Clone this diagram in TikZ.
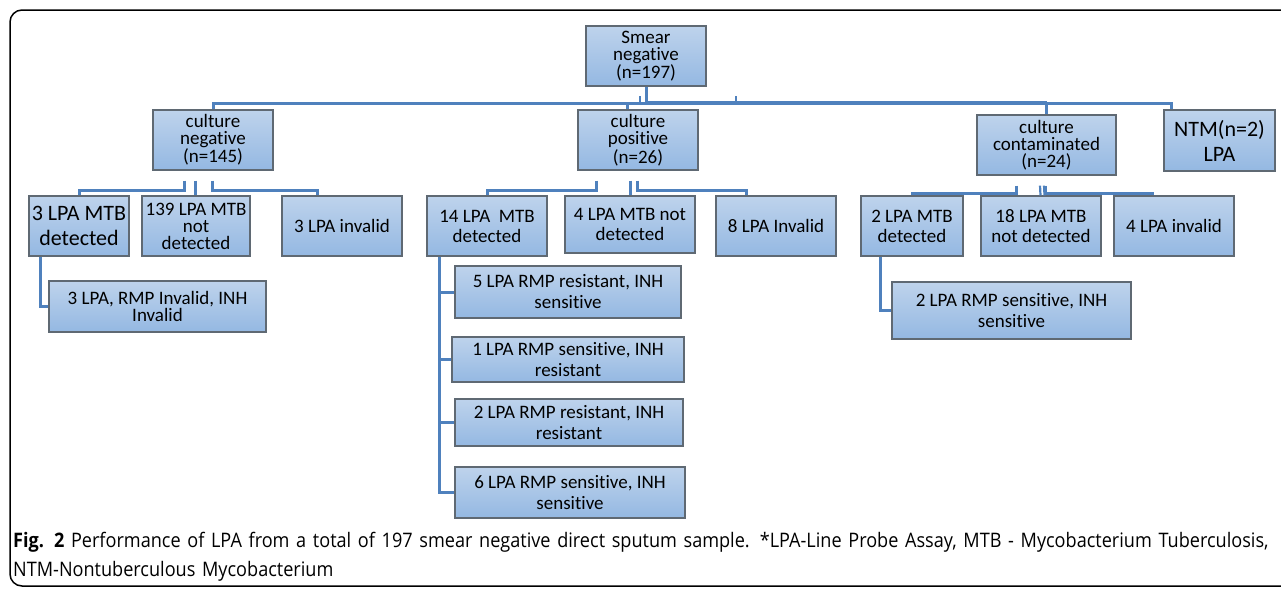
\documentclass[tikz,border=0pt]{standalone}
\usepackage{fontspec}
\setmainfont{Carlito}[Ligatures=NoCommon]
\newfontfamily\capfont[FakeStretch=0.905]{Open Sans}
\usetikzlibrary{calc}
\definecolor{linkblue}{RGB}{79,129,189}
\definecolor{boxtop}{RGB}{190,211,236}
\definecolor{boxbot}{RGB}{148,184,226}
\definecolor{boxedge}{RGB}{95,105,115}
\tikzset{
  box/.style={rectangle, draw=boxedge, line width=1.1pt, top color=boxtop, bottom color=boxbot,
    inner sep=1pt, align=center, font=\fontsize{19}{17}\selectfont, text=black},
  subbox/.style={box, font=\fontsize{19}{21}\selectfont},
  bigbox/.style={box, font=\fontsize{22}{25}\selectfont},
  conn/.style={draw=linkblue, line width=3pt},
  thinconn/.style={draw=linkblue, line width=2.2pt},
}
\newcommand{\bx}[7]{\node[#1, minimum width=#5pt, minimum height=#6pt] (#2) at (#3,#4) {#7};}
\begin{document}
\begin{tikzpicture}[x=1pt,y=-1pt]
\useasboundingbox (0,0) rectangle (1281,590);
\draw[line width=1.5pt, rounded corners=12pt] (1290,10) -- (10,10) -- (10,586) -- (1290,586);

% top level
\bx{box}{smear}{646}{56}{120}{60}{Smear\\negative\\(n=197)}
\bx{box}{cneg}{213}{140}{120}{60}{culture\\negative\\(n=145)}
\bx{box}{cpos}{638}{140}{120}{60}{culture\\positive\\[2pt](n=26)}
\bx{box}{ccont}{1046.5}{145}{139}{60}{culture\\contaminated\\(n=24)}
\bx{bigbox}{ntm}{1219.5}{140.5}{111}{61}{NTM(n=2)\\LPA}

% culture negative children
\bx{bigbox}{nd}{79}{226}{100}{60}{3 LPA MTB\\detected}
\bx{box}{nnd}{196}{226}{108}{60}{139 LPA MTB\\not\\detected}
\bx{box}{ninv}{342}{226}{120}{60}{3 LPA invalid}
\bx{box}{nsub}{157.5}{306.5}{217}{51}{3 LPA, RMP Invalid, INH\\Invalid}

% culture positive children
\bx{box}{pd}{487}{226}{120}{60}{14 LPA~ MTB\\[3pt]detected}
\bx{box}{pnd}{630}{224.5}{130}{57}{4 LPA MTB not\\[3pt]detected}
\bx{box}{pinv}{776}{226}{120}{60}{8 LPA Invalid}
\bx{subbox}{p5}{568}{292}{226}{52}{5 LPA RMP resistant, INH\\sensitive}
\bx{subbox}{p1}{568}{359.5}{232}{45}{1 LPA RMP sensitive, INH\\resistant}
\bx{subbox}{p2}{569}{422.5}{228}{47}{2 LPA RMP resistant, INH\\resistant}
\bx{subbox}{p6}{570}{492.5}{230}{51}{6 LPA RMP sensitive, INH\\sensitive}

% culture contaminated children
\bx{box}{td}{912}{226}{102}{60}{2 LPA MTB\\[3pt]detected}
\bx{box}{tnd}{1041}{226}{120}{60}{18 LPA MTB\\[3pt]not detected}
\bx{box}{tinv}{1174}{226}{120}{60}{4 LPA invalid}
\bx{subbox}{tsub}{1011.5}{310.5}{239}{57}{2 LPA RMP sensitive, INH\\sensitive}

% connectors: top level
\coordinate (hub) at (smear.south |- 0,103);
\draw[conn] (smear.south) -- (hub);
\draw[conn] (cneg.north) |- (hub);
\draw[conn] (hub) -| ([xshift=8pt]ntm.north west);
\draw[draw=linkblue, line width=4.2pt] (hub) -- (hub -| ccont.north);
\draw[thinconn] ([xshift=-6pt]hub) -- ++(0,-7);
\draw[thinconn] (hub -| 736,0) -- ++(0,-7);
\draw[conn] (hub -| 627,0) -- ([xshift=-11pt]cpos.north);
\draw[conn] (hub -| ccont.north) -- (ccont.north);

% culture negative branches
\draw[conn] ([xshift=-29pt,yshift=-10pt]cneg.south) -- ++(0,10) -| (nd.north);
\draw[conn] ([xshift=-18pt,yshift=-10pt]cneg.south) -- ([xshift=-1pt]nnd.north);
\draw[conn] ([xshift=-1pt,yshift=-10pt]cneg.south) -- ++(0,10) -| ([xshift=-25pt]ninv.north);
\draw[conn] ([xshift=-39pt]nd.south) |- (nsub.west);

% culture positive branches
\draw[conn] ([xshift=-42pt,yshift=-10pt]cpos.south) -- ++(0,10) -| (pd.north);
\draw[conn] ([xshift=-8pt,yshift=-10pt]cpos.south) -- (pnd.north);
\draw[conn] ([xshift=-1pt,yshift=-10pt]cpos.south) -- ++(0,10) -| ([xshift=-30pt]pinv.north);
\coordinate (ptrunk) at ([xshift=-48pt]pd.south);
\draw[conn] (ptrunk) |- (p6.west);
\draw[conn] (ptrunk |- p5.west) -- (p5.west);
\draw[conn] (ptrunk |- p1.west) -- (p1.west);
\draw[conn] (ptrunk |- p2.west) -- (p2.west);

% culture contaminated branches
\draw[conn] ([xshift=-30pt,yshift=-10pt]ccont.south) -- ++(0,8) -| (td.north);
\draw[thinconn] ([xshift=-6.5pt,yshift=-10pt]ccont.south) -- ([xshift=-0.5pt]tnd.north);
\draw[thinconn] ([xshift=-2.5pt,yshift=-10pt]ccont.south) -- ([xshift=3.5pt]tnd.north);
\draw[conn] ([xshift=-1.5pt,yshift=-10pt]ccont.south) -- ++(0,8) -| ([xshift=-22pt]tinv.north);
\draw[conn] ([xshift=-32pt]td.south) |- (tsub.west);

% caption
\node[anchor=north west, inner sep=0pt, align=left, text width=1275pt,
  font=\capfont\fontsize{20}{29}\selectfont] (cap) at (13,532)
  {\textbf{Fig. 2} Performance of LPA from a total of 197 smear negative direct sputum sample. *LPA-Line Probe Assay, MTB - Mycobacterium Tuberculosis,\\NTM-Nontuberculous Mycobacterium};
\end{tikzpicture}
\end{document}
